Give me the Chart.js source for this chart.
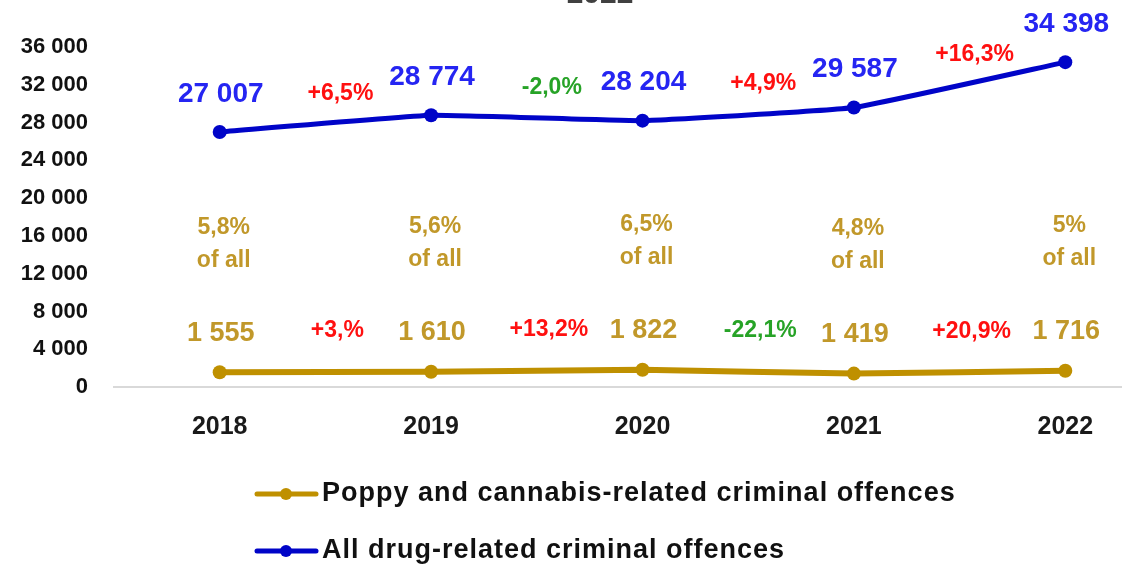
<!DOCTYPE html>
<html>
<head>
<meta charset="utf-8">
<script src="https://cdn.jsdelivr.net/npm/chart.js@4.4.1/dist/chart.umd.min.js"></script>
<style>
  html, body { margin: 0; padding: 0; background: #ffffff; overflow: hidden; width: 1122px; height: 567px; }
  #wrap { position: relative; width: 1180px; height: 567px; }
</style>
</head>
<body>
<div id="wrap"><canvas id="c" width="1180" height="567"></canvas></div>
<script>
const years = ['2018', '2019', '2020', '2021', '2022'];
const allDrug = [27007, 28774, 28204, 29587, 34398];
const poppy = [1555, 1610, 1822, 1419, 1716];
const allChange = ['+6,5%', '-2,0%', '+4,9%', '+16,3%'];
const poppyChange = ['+3,%', '+13,2%', '-22,1%', '+20,9%'];
const shareOfAll = ['5,8%', '5,6%', '6,5%', '4,8%', '5%'];
const shareSuffix = 'of all';
const seriesNames = ['Poppy and cannabis-related criminal offences', 'All drug-related criminal offences'];
const titleText = '2022';
const yMin = 0, yMax = 36000, yStep = 4000;

const GOLD = '#BF9000', GOLD_TXT = '#C1982A';
const BLUE = '#0004C8', BLUE_TXT = '#2525F2';
const RED = '#FF1010', GREEN = '#27A327';

Chart.defaults.font.family = '"Liberation Sans", Arial, sans-serif';

function fmt(v) { return String(v).replace(/\B(?=(\d{3})+(?!\d))/g, ' '); }
function changeColor(s) { return s.trim().startsWith('-') ? GREEN : RED; }

const labelPlugin = {
  id: 'labels',
  afterDatasetsDraw(chart) {
    const ctx = chart.ctx;
    const mPoppy = chart.getDatasetMeta(0).data;
    const mAll = chart.getDatasetMeta(1).data;
    ctx.save();
    ctx.textAlign = 'center';
    ctx.textBaseline = 'middle';
    ctx.font = 'bold 28px "Liberation Sans"';
    ctx.fillStyle = BLUE_TXT;
    mAll.forEach((p, i) => ctx.fillText(fmt(allDrug[i]), p.x + 1, p.y - 38));
    ctx.font = 'bold 27px "Liberation Sans"';
    ctx.fillStyle = GOLD_TXT;
    mPoppy.forEach((p, i) => ctx.fillText(fmt(poppy[i]), p.x + 1, p.y - 39));
    ctx.font = 'bold 23px "Liberation Sans"';
    mPoppy.forEach((p, i) => {
      ctx.fillText(shareOfAll[i], p.x + 4, p.y - 145);
      ctx.fillText(shareSuffix, p.x + 4, p.y - 112);
    });
    ctx.font = 'bold 23px "Liberation Sans"';
    allChange.forEach((s, i) => {
      const a = mAll[i], b = mAll[i + 1];
      ctx.fillStyle = changeColor(s);
      ctx.fillText(s, (a.x + b.x) / 2 + 15, (a.y + b.y) / 2 - 30);
    });
    poppyChange.forEach((s, i) => {
      const a = mPoppy[i], b = mPoppy[i + 1];
      ctx.fillStyle = changeColor(s);
      ctx.fillText(s, (a.x + b.x) / 2 + 12, (a.y + b.y) / 2 - 41);
    });
    ctx.restore();
  },
  afterDraw(chart) {
    const ctx = chart.ctx;
    ctx.save();
    ctx.font = 'bold 30px "Liberation Sans"';
    ctx.fillStyle = '#404040';
    ctx.textAlign = 'center';
    ctx.textBaseline = 'alphabetic';
    ctx.fillText(titleText, 600, 3);
    const rows = [{ ds: 0, y: 494 }, { ds: 1, y: 551 }];
    rows.forEach(r => {
      const d = chart.data.datasets[r.ds];
      ctx.strokeStyle = d.borderColor;
      ctx.lineWidth = 5;
      ctx.lineCap = 'round';
      ctx.beginPath();
      ctx.moveTo(257, r.y);
      ctx.lineTo(316, r.y);
      ctx.stroke();
      ctx.fillStyle = d.borderColor;
      ctx.beginPath();
      ctx.arc(286, r.y, 6, 0, Math.PI * 2);
      ctx.fill();
      ctx.fillStyle = '#111111';
      ctx.font = 'bold 27px "Liberation Sans"';
      ctx.letterSpacing = '1px';
      ctx.textAlign = 'left';
      ctx.textBaseline = 'middle';
      ctx.fillText(d.label, 322, r.y);
      ctx.letterSpacing = '0px';
    });
    ctx.restore();
  }
};

new Chart(document.getElementById('c'), {
  type: 'line',
  data: {
    labels: years,
    datasets: [
      { label: seriesNames[0], data: poppy, borderColor: GOLD, backgroundColor: GOLD,
        borderWidth: 6, pointRadius: 7, pointHoverRadius: 7, pointBackgroundColor: GOLD, pointBorderWidth: 0, tension: 0.1 },
      { label: seriesNames[1], data: allDrug, borderColor: BLUE, backgroundColor: BLUE,
        borderWidth: 5, pointRadius: 7, pointHoverRadius: 7, pointBackgroundColor: BLUE, pointBorderWidth: 0, tension: 0.1 }
    ]
  },
  options: {
    responsive: false,
    animation: false,
    clip: false,
    layout: { padding: { top: 47, right: 9, left: 0, bottom: 0 } },
    plugins: { legend: { display: false }, tooltip: { enabled: false }, title: { display: false } },
    scales: {
      x: {
        offset: true,
        grid: { display: false, drawTicks: false },
        border: { display: true, color: '#D9D9D9', width: 2 },
        ticks: { color: '#1a1a1a', font: { size: 25, weight: 'bold' }, padding: 25 },
        afterFit(s) { s.height = 180; }
      },
      y: {
        min: yMin, max: yMax,
        grid: { display: false, drawTicks: false },
        border: { display: false },
        ticks: { stepSize: yStep, color: '#111111', font: { size: 22, weight: 'bold' }, padding: 26,
          callback: v => fmt(v) },
        afterFit(s) { s.width = 114; }
      }
    }
  },
  plugins: [labelPlugin]
});
</script>
</body>
</html>
